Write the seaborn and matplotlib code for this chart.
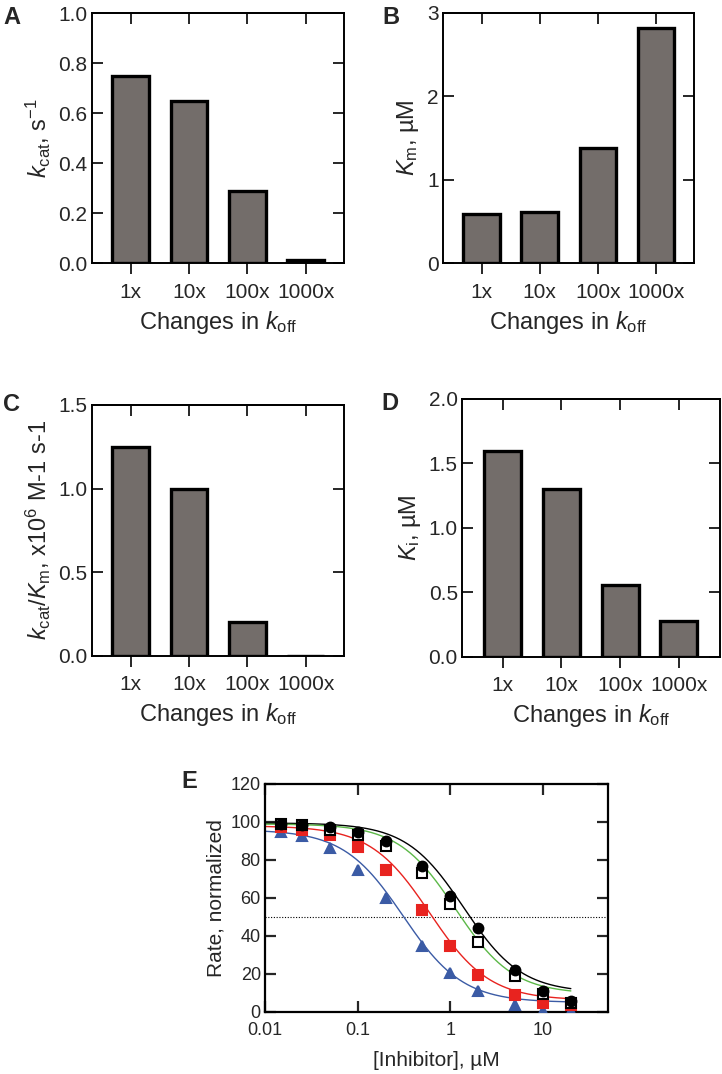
import numpy as np
import pandas as pd
import seaborn as sns
import matplotlib
matplotlib.use("Agg")
import matplotlib.pyplot as plt

# bar panels: fold change in k_off
changes = ["1x", "10x", "100x", "1000x"]
kcat = [0.75, 0.65, 0.29, 0.012]
km = [0.59, 0.62, 1.38, 2.82]
kcat_km = [1.25, 1.0, 0.2, 0.0]
ki = [1.6, 1.3, 0.56, 0.28]

# panel E: inhibition data points
inhibitor = [0.015, 0.025, 0.05, 0.1, 0.2, 0.5, 1, 2, 5, 10, 20]
rate_circle = [99, 98.5, 97.5, 95, 90, 77, 61, 44, 22, 11, 6]
rate_open = [99, 98.5, 96, 93, 87.5, 73, 57, 37, 19, 9.5, 4.5]
rate_red = [97.5, 96, 93, 87, 75, 53.5, 34.5, 19.5, 9, 4.5, 3.5]
rate_blue = [94.5, 92.5, 86.5, 75, 60, 35, 20.5, 10.8, 3.8, 0.5, 0.3]

# fitted dose-response parameters (circle, open, red, blue)
fit_top = [99.5, 99.0, 98.0, 96.0]
fit_bottom = [10.2, 9.5, 6.2, 5.0]
fit_ic50 = [1.40, 1.14, 0.60, 0.31]
fit_hill = [1.4, 1.4, 1.35, 1.35]

BAR_GRAY = "#736d6a"
GREEN = "#5cb848"
RED = "#e8231f"
BLUE = "#3b5ba5"

sns.set_style("ticks")
plt.rcParams["font.family"] = ["Liberation Sans", "DejaVu Sans"]
plt.rcParams["mathtext.fontset"] = "custom"
plt.rcParams["mathtext.rm"] = "Liberation Sans"
plt.rcParams["mathtext.it"] = "Liberation Sans:italic"
plt.rcParams["mathtext.bf"] = "Liberation Sans:bold"

W, H = 722, 1074


def rect(left, right, top, bottom):
    return [left / W, 1 - bottom / H, (right - left) / W, (bottom - top) / H]


def dose_response(top, bottom, ic50, hill):
    xs = np.logspace(-2, np.log10(20), 300)
    ys = bottom + (top - bottom) / (1.0 + (xs / ic50) ** hill)
    return xs, ys


def bar_panel(fig, box, values, ylim, yticks, ylabel, letter, letter_xy):
    ax = fig.add_axes(box)
    df = pd.DataFrame({"change": changes, "value": values})
    sns.barplot(data=df, x="change", y="value", ax=ax, color=BAR_GRAY,
                saturation=1, edgecolor="black", linewidth=2.4, width=0.63)
    ax.set_xlim(-0.67, 3.66)
    ax.set_ylim(*ylim)
    ax.set_yticks(yticks)
    for s in ax.spines.values():
        s.set_visible(True)
        s.set_linewidth(1.4)
        s.set_color("black")
    ax.tick_params(axis="y", direction="in", length=8, width=1.4,
                   right=True, labelsize=15, pad=3)
    ax.tick_params(axis="x", direction="out", length=8, width=1.4,
                   labelsize=15, pad=6)
    top = ax.secondary_xaxis("top")
    top.set_xticks(range(len(changes)))
    top.tick_params(direction="in", length=8, width=1.4, labeltop=False)
    top.spines["top"].set_linewidth(1.4)
    ax.set_xlabel("Changes in $k_{\\mathrm{off}}$", fontsize=17, labelpad=5)
    ax.set_ylabel(ylabel, fontsize=17, labelpad=4)
    fig.text(letter_xy[0] / W, 1 - letter_xy[1] / H, letter, fontsize=17,
             fontweight="bold", va="top", ha="left")
    return ax


fig = plt.figure(figsize=(W / 100, H / 100), dpi=100)

axA = bar_panel(fig, rect(91.7, 344.3, 13.3, 263.3), kcat, (0, 1.0),
                [0, 0.2, 0.4, 0.6, 0.8, 1.0], "$k_{\\mathrm{cat}}$, s$^{\\mathrm{-1}}$",
                "A", (3, 6))
axA.set_yticklabels(["0.0", "0.2", "0.4", "0.6", "0.8", "1.0"])

axB = bar_panel(fig, rect(442.7, 694.3, 12.7, 263.3), km, (0, 3),
                [0, 1, 2, 3], "$K_{\\mathrm{m}}$, µM", "B", (382, 6))

axC = bar_panel(fig, rect(91.7, 344.3, 405, 655.7), kcat_km, (0, 1.5),
                [0, 0.5, 1.0, 1.5],
                "$k_{\\mathrm{cat}}/K_{\\mathrm{m}}$, x10$^{\\mathrm{6}}$ M-1 s-1",
                "C", (3, 393))
axC.set_yticklabels(["0.0", "0.5", "1.0", "1.5"])

axD = bar_panel(fig, rect(462, 719.5, 399, 656.7), ki, (0, 2.0),
                [0, 0.5, 1.0, 1.5, 2.0], "$K_{\\mathrm{i}}$, µM", "D", (381, 392))
axD.set_yticklabels(["0.0", "0.5", "1.0", "1.5", "2.0"])
axD.set_xlim(-0.69, 3.69)

# panel E
axE = fig.add_axes(rect(265, 607.7, 784, 1012))
axE.set_xscale("log")
axE.axhline(50, color="black", lw=0.8, ls=(0, (1, 1.5)), zorder=1)

series = [
    (rate_circle, "black", "o", "black", "black", 7),
    (rate_open, GREEN, "s", "white", "black", 6.5),
    (rate_red, RED, "s", RED, RED, 6.5),
    (rate_blue, BLUE, "^", BLUE, BLUE, 7),
]
for i, (vals, lc, _, _, _, _) in enumerate(series):
    xs, ys = dose_response(fit_top[i], fit_bottom[i], fit_ic50[i], fit_hill[i])
    sns.lineplot(x=xs, y=ys, ax=axE, color=lc, lw=1.0, zorder=2)
for vals, _, mk, fc, ec, ms in series[::-1]:
    axE.plot(inhibitor, vals, ls="none", marker=mk, ms=ms, mfc=fc,
             mec=ec, mew=1.5, zorder=3)

axE.set_xlim(0.01, 50)
axE.set_ylim(0, 120)
axE.set_xticks([0.01, 0.1, 1, 10])
axE.set_xticklabels(["0.01", "0.1", "1", "10"])
axE.xaxis.set_minor_locator(matplotlib.ticker.NullLocator())
axE.set_yticks(range(0, 121, 20))
for s in axE.spines.values():
    s.set_visible(True)
    s.set_linewidth(1.6)
    s.set_color("black")
axE.tick_params(direction="in", length=8, width=1.6, top=True, right=True,
                labelsize=13, pad=3)
axE.tick_params(axis="x", pad=7)
axE.set_xlabel("[Inhibitor], µM", fontsize=15, labelpad=9)
axE.set_ylabel("Rate, normalized", fontsize=15, labelpad=4)
fig.text(181 / W, 1 - 770 / H, "E", fontsize=17, fontweight="bold",
         va="top", ha="left")

fig.savefig("out.png", dpi=100)
